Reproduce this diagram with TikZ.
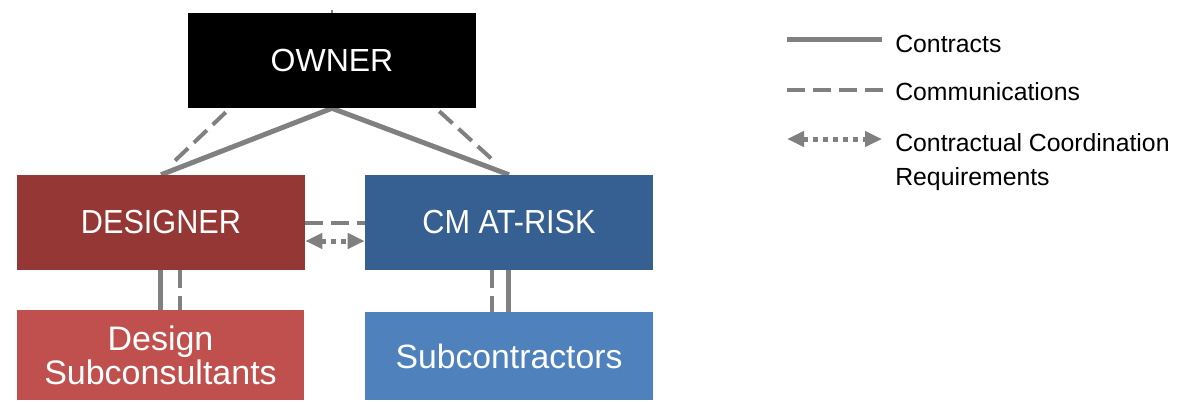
\documentclass[tikz,border=0pt]{standalone}
\usepackage{fontspec}
\setmainfont{Liberation Sans}
\newfontfamily\narrowfont[FakeStretch=0.92]{Liberation Sans}
\usetikzlibrary{arrows.meta,calc,backgrounds}
\definecolor{designred}{HTML}{953735}
\definecolor{cmblue}{HTML}{366092}
\definecolor{subred}{HTML}{C0504D}
\definecolor{subblue}{HTML}{4F81BD}
\definecolor{linkgray}{HTML}{808080}
\begin{document}
\begin{tikzpicture}[x=0.75pt,y=-0.75pt,
  party/.style={fill=#1, text=white, inner sep=0pt, minimum width=216pt,
    minimum height=71.25pt, align=center},
  contract/.style={draw=linkgray, line width=3.75pt},
  comms/.style={draw=linkgray, line width=3pt, dash pattern=on 13.5pt off 6pt},
  coordreq/.style={draw=linkgray, line width=3.75pt, dash pattern=on 3.75pt off 3.75pt,
    {Triangle[length=12.75pt,width=11.25pt]}-{Triangle[length=12.75pt,width=11.25pt]}},
  legendtext/.style={anchor=base west, inner sep=0pt, text=black,
    font=\fontsize{18.6pt}{25.5pt}\selectfont}
]
\useasboundingbox (0,0) rectangle (1180,401);

% parties
\node[party=black, font=\fontsize{24pt}{28pt}\selectfont] (owner) at (332,60.5) {OWNER};
\node[party=designred, font=\narrowfont\fontsize{25pt}{30pt}\selectfont] (designer) at (161,222.5) {DESIGNER};
\node[party=cmblue, font=\narrowfont\fontsize{25pt}{30pt}\selectfont] (cm) at (509,222.5) {CM AT-RISK};
\node[party=subred, minimum width=215.25pt, minimum height=67.5pt,
  font=\fontsize{25.5pt}{25.5pt}\selectfont] (dsub) at (160.5,355) {Design\\Subconsultants};
\node[party=subblue, minimum height=66pt,
  font=\fontsize{25.3pt}{28pt}\selectfont] (subs) at (509,356) {Subcontractors};

% end points of the communication lines below the owner
\coordinate (cl1) at ($(owner.south west)+(38,4)$);
\coordinate (cl2) at ($(designer.north west)+(154,-10)$);
\coordinate (cr1) at ($(owner.south east)+(-37,3)$);
\coordinate (cr2) at ($(cm.north west)+(130,-13)$);

\begin{scope}[on background layer]
  \draw[linkgray, line width=1.5pt] ($(owner.north)+(0,-3)$) -- (owner.north);
  % contracts
  \draw[contract] (owner.south) -- (designer.north);
  \draw[contract] (owner.south) -- (cm.north);
  \draw[contract] ($(designer.south)+(-1,0)$) -- ($(dsub.north)+(-0.5,0)$);
  \draw[contract] ($(cm.south)+(-1,0)$) -- ($(subs.north)+(-1,0)$);
  % communications
  \draw[comms] (cl1) -- (cl2);
  \draw[comms] (cr1) -- (cr2);
  \draw[comms] ($(designer.south)+(19,0)$) -- ($(dsub.north)+(19.5,0)$);
  \draw[comms] ($(cm.south)+(-17,0)$) -- ($(subs.north)+(-17,0)$);
  \draw[comms] (designer.east) -- (cm.west);
  % contractual coordination
  \draw[coordreq] ($(designer.east)+(0,18.5)$) -- ($(cm.west)+(0,18.5)$);
\end{scope}

% legend
\coordinate (k1a) at (787,39);  \coordinate (k1b) at (882,39);
\coordinate (k2a) at (787,90);  \coordinate (k2b) at (883,90);
\coordinate (k3a) at (787,139); \coordinate (k3b) at (882,139);
\draw[contract] (k1a) -- (k1b);
\draw[comms] (k2a) -- (k2b);
\draw[coordreq] (k3a) -- (k3b);
\node[legendtext] (t1) at (895,52) {Contracts};
\node[legendtext] (t2) at (895,100) {Communications};
\node[legendtext] (t3) at (895,151) {Contractual Coordination};
\node[legendtext] (t4) at (895,185) {Requirements};
\end{tikzpicture}
\end{document}
